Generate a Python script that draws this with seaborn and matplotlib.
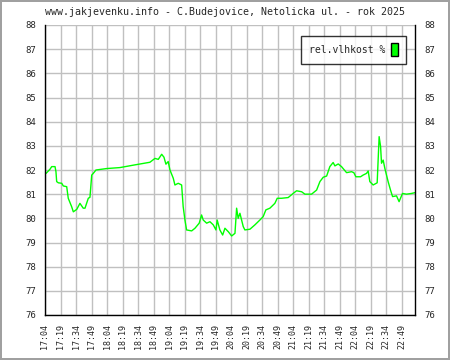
import pandas as pd
import numpy as np
import matplotlib
matplotlib.use("Agg")
import matplotlib.pyplot as plt
import seaborn as sns
from matplotlib.patches import Rectangle

# minutes after 17:04 and relative humidity (%)
minutes = [0, 1, 4.8, 6.5, 9.7, 10.6, 11.3, 12.9, 16.2, 17.7, 21, 22.5, 25.8, 27.4,
           30.7, 33.8, 37, 38.7, 41.9, 43.5, 45.2, 46.7, 49.3, 59.7, 72.5, 85.4,
           101.5, 106.4, 109.6, 112.9, 115.1, 117, 119.2, 120.9, 124.1, 125.7,
           128.9, 132.2, 133.7, 135.4, 137, 141.9, 145.1, 149.2, 151.5, 153.1,
           156.4, 159.6, 162.8, 165.4, 166.6, 169.2, 171.9, 174.1, 177.3, 180.6,
           183.8, 185.4, 186.9, 188.6, 191.8, 193.4, 198.3, 203.1, 207.9, 211.1,
           213.7, 217.6, 222.4, 224.7, 228.9, 235.3, 240.1, 243.4, 248.3, 251.5,
           257.9, 262.8, 266, 269.2, 272.5, 275.6, 278.8, 280.5, 283.7, 286.9,
           291.8, 296.6, 298.8, 300.8, 305.3, 307.8, 311.1, 312.7, 314.3, 317.5,
           321.4, 322.4, 323.3, 324.7, 325.6, 327.2, 328.8, 332, 334.3, 336.3,
           340.1, 342.6, 345.9, 349.8, 354.6, 357.8]
humidity = [81.86, 81.86, 82.03, 82.14, 82.14, 81.93, 81.52, 81.47, 81.45, 81.34,
            81.31, 80.83, 80.48, 80.27, 80.37, 80.62, 80.42, 80.42, 80.83, 80.87,
            81.79, 81.86, 82.0, 82.06, 82.1, 82.2, 82.32, 82.48, 82.44, 82.65,
            82.53, 82.24, 82.35, 82.0, 81.66, 81.38, 81.45, 81.38, 80.48, 79.93,
            79.52, 79.48, 79.59, 79.8, 80.14, 79.93, 79.8, 79.86, 79.73, 79.52,
            79.93, 79.52, 79.31, 79.59, 79.45, 79.27, 79.38, 80.42, 80.0, 80.21,
            79.66, 79.52, 79.55, 79.73, 79.93, 80.07, 80.35, 80.42, 80.62, 80.83,
            80.83, 80.86, 81.03, 81.14, 81.1, 81.0, 81.0, 81.17, 81.52, 81.7,
            81.75, 82.14, 82.31, 82.17, 82.25, 82.14, 81.89, 81.93, 81.89, 81.72,
            81.72, 81.79, 81.86, 81.96, 81.52, 81.38, 81.47, 82.48, 83.38, 82.97,
            82.28, 82.41, 82.07, 81.52, 81.17, 80.9, 80.93, 80.69, 81.03, 81.0,
            81.03, 81.06]

tick_labels = ["17:04", "17:19", "17:34", "17:49", "18:04", "18:19", "18:34", "18:49",
               "19:04", "19:19", "19:34", "19:49", "20:04", "20:19", "20:34", "20:49",
               "21:04", "21:19", "21:34", "21:49", "22:04", "22:19", "22:34", "22:49"]
tick_pos = [15 * i for i in range(len(tick_labels))]

df = pd.DataFrame({"min": minutes, "rel.vlhkost %": humidity})

sns.set_style("white")
plt.rcParams["font.family"] = ["DejaVu Sans Mono"]

fig = plt.figure(figsize=(4.5, 3.6), dpi=100)
ax = fig.add_axes([45 / 450, 45 / 360, 370 / 450, 290 / 360])

sns.lineplot(data=df, x="min", y="rel.vlhkost %", color="#00ff00", linewidth=1,
             ax=ax, label="rel.vlhkost %")

ax.set_xlim(0, 358)
ax.set_ylim(76, 88)
ax.set_xticks(tick_pos)
ax.set_xticklabels(tick_labels, rotation=90, fontsize=6)
ax.set_yticks(range(76, 89))
ax.tick_params(axis="y", labelsize=6.5, direction="inout", length=7, width=1,
               labelright=True, right=False, pad=3)
ax.tick_params(axis="x", direction="inout", length=7, width=1, pad=3)
ax.set_xlabel("")
ax.set_ylabel("")
ax.grid(True, color="#c0c0c0", linewidth=1)

for side in ["left", "right", "bottom"]:
    ax.spines[side].set_color("black")
    ax.spines[side].set_linewidth(1)
ax.spines["top"].set_visible(False)

# legend with the colour box on the right
leg = ax.legend(handles=[Rectangle((0, 0), 1, 1, facecolor="#00ff00", edgecolor="black")],
                labels=["rel.vlhkost %"], loc="upper right", markerfirst=False,
                fancybox=False, frameon=True, fontsize=7, handlelength=0.7,
                handleheight=1.6, borderpad=0.8, handletextpad=0.6,
                bbox_to_anchor=(0.988, 0.98))
leg.get_frame().set_edgecolor("black")
leg.get_frame().set_linewidth(1)

fig.text(0.5, 1 - 12 / 360, "www.jakjevenku.info - C.Budejovice, Netolicka ul. - rok 2025",
         ha="center", va="center", fontsize=7.2)

fig.patch.set_edgecolor("#a0a0a0")
fig.patch.set_linewidth(1.5)

fig.savefig("out.png", dpi=100, edgecolor=fig.get_edgecolor())
